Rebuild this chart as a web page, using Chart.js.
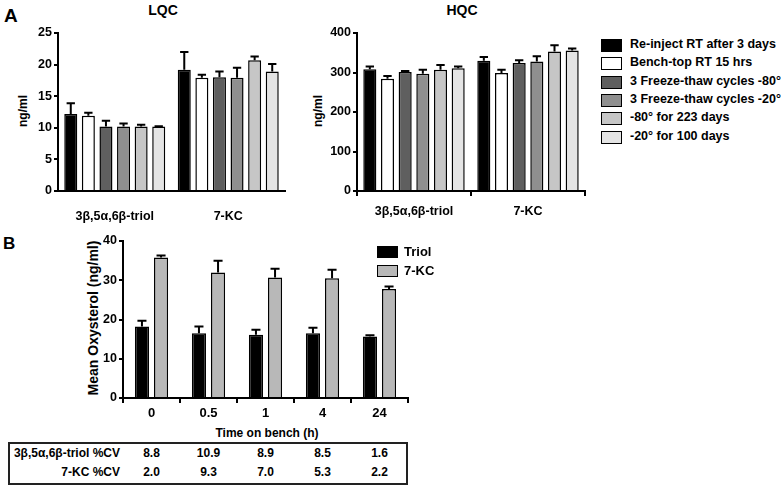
<!DOCTYPE html>
<html>
<head>
<meta charset="utf-8">
<script src="https://cdn.jsdelivr.net/npm/chart.js@4.4.0/dist/chart.umd.min.js"></script>
<style>
  html, body { margin: 0; padding: 0; background: #fff; }
  #fig { position: relative; width: 784px; height: 487px; overflow: hidden;
         font-family: "Liberation Sans", Arial, sans-serif; font-weight: bold; color: #000; }
  #fig canvas { position: absolute; }
  .txt { position: absolute; white-space: nowrap; line-height: 1; }
  .rot { position: absolute; white-space: nowrap; line-height: 1; transform: translate(-50%, -50%) rotate(-90deg); font-size: 12px; }
  .ctr { transform: translate(-50%, -50%); }
  .sw { position: absolute; border: 1.5px solid #000; box-sizing: border-box; }
  #tbl { position: absolute; left: 8px; top: 442px; width: 400px; height: 43px; border: 2px solid #222; box-sizing: border-box; }
</style>
</head>
<body>
<div id="fig">
  <div class="txt" style="left:4px; top:6px; font-size:19px;">A</div>
  <div class="txt" style="left:3px; top:235px; font-size:17px;">B</div>
  <div class="txt ctr" style="left:163px; top:10px; font-size:14px;">LQC</div>
  <div class="txt ctr" style="left:462px; top:10px; font-size:14px;">HQC</div>
  <div class="rot" style="left:23px; top:111px;">ng/ml</div>
  <div class="rot" style="left:318px; top:111px;">ng/ml</div>
  <div class="rot" style="left:93px; top:318px; font-size:14px;">Mean Oxysterol (ng/ml)</div>
  <div class="txt ctr" style="left:267px; top:433px; font-size:12px;">Time on bench (h)</div>

  <canvas id="lqc" width="290" height="225" style="left:0; top:0;"></canvas>
  <canvas id="hqc" width="300" height="225" style="left:290px; top:0;"></canvas>
  <canvas id="bench" width="420" height="200" style="left:0; top:225px;"></canvas>

  <div id="legendA"></div>
  <div id="legendB"></div>
  <div id="tbl"></div>
  <div id="tblText"></div>
</div>

<script>
// ---- Data ----
const compounds = ['3β,5α,6β-triol', '7-KC'];
const conditions = ['Re-inject RT after 3 days', 'Bench-top RT 15 hrs', '3 Freeze-thaw cycles -80°',
                    '3 Freeze-thaw cycles -20°', '-80° for 223 days', '-20° for 100 days'];
const conditionColors = ['#000000', '#ffffff', '#5f5f5f', '#8f8f8f', '#c6c6c6', '#e4e4e4'];

// LQC means / SD per condition, [triol, 7-KC]
const lqcMeans = [[12.2, 19.2], [11.9, 17.9], [10.2, 18.0], [10.2, 17.9], [10.2, 20.7], [10.2, 18.9]];
const lqcErrs  = [[1.7, 2.8], [0.5, 0.5], [0.9, 0.9], [0.5, 1.6], [0.3, 0.6], [0.05, 1.2]];

// HQC means / SD per condition, [triol, 7-KC]
const hqcMeans = [[308, 330], [284, 299], [301, 324], [297, 328], [307, 353], [311, 356]];
const hqcErrs  = [[7, 9], [7, 8], [3, 7], [10, 13], [12, 16], [4, 5]];

const lqcTicks = { max: 25, step: 5 };
const hqcTicks = { max: 400, step: 100 };

// Panel B
const benchTimes = ['0', '0.5', '1', '4', '24'];
const triolMeans = [18.2, 16.5, 16.1, 16.5, 15.7];
const triolErrs  = [1.5, 1.7, 1.3, 1.4, 0.3];
const kcMeans    = [35.8, 32.0, 30.7, 30.5, 27.8];
const kcErrs     = [0.5, 3.0, 2.2, 2.2, 0.6];
const benchNames = ['Triol', '7-KC'];
const benchColors = ['#000000', '#b8b8b8'];
const triolCV = ['8.8', '10.9', '8.9', '8.5', '1.6'];
const kcCV    = ['2.0', '9.3', '7.0', '5.3', '2.2'];
const cvRowLabels = ['3β,5α,6β-triol %CV', '7-KC %CV'];

Chart.defaults.font.family = '"Liberation Sans", Arial, sans-serif';
Chart.defaults.font.size = 12;
Chart.defaults.font.weight = 'bold';
Chart.defaults.color = '#000';

// error bars drawn above each bar: stem + cap
const errorBars = {
  id: 'errorBars',
  afterDatasetsDraw(chart) {
    const ctx = chart.ctx;
    const y = chart.scales.y;
    ctx.save();
    ctx.strokeStyle = '#000';
    ctx.lineWidth = 2;
    chart.data.datasets.forEach((ds, i) => {
      const meta = chart.getDatasetMeta(i);
      meta.data.forEach((bar, j) => {
        const top = y.getPixelForValue(ds.data[j] + ds.errors[j]);
        const cap = bar.width * 0.32;
        ctx.beginPath();
        ctx.moveTo(bar.x, bar.y);
        ctx.lineTo(bar.x, top);
        ctx.moveTo(bar.x - cap, top);
        ctx.lineTo(bar.x + cap, top);
        ctx.stroke();
      });
    });
    ctx.restore();
  }
};

function makeOptions(o) {
  return {
    responsive: false,
    animation: false,
    layout: { padding: { top: o.top, right: o.right, left: 0, bottom: 0 } },
    plugins: { legend: { display: false }, tooltip: { enabled: false } },
    scales: {
      x: {
        grid: { display: o.xTicks, drawOnChartArea: false, color: '#000', lineWidth: 2, tickLength: 5 },
        border: { display: true, color: '#000', width: 2 },
        ticks: { padding: o.xPad, font: { size: o.xFont, weight: 'bold' } },
        afterFit: s => { s.height = o.xHeight; }
      },
      y: {
        min: 0, max: o.max,
        grid: { drawOnChartArea: false, color: '#000', lineWidth: 2, tickLength: 4 },
        border: { display: true, color: '#000', width: 2 },
        ticks: { stepSize: o.step, padding: 2, font: { size: 12.5, weight: 'bold' } },
        afterFit: s => { s.width = o.yWidth; }
      }
    }
  };
}

function qcDatasets(means, errs) {
  return conditions.map((name, i) => ({
    label: name,
    data: means[i],
    errors: errs[i],
    backgroundColor: conditionColors[i],
    borderColor: '#000',
    borderWidth: 1.5,
    borderSkipped: 'bottom',
    categoryPercentage: 0.93,
    barPercentage: 0.74
  }));
}

new Chart(document.getElementById('lqc'), {
  type: 'bar',
  data: { labels: compounds, datasets: qcDatasets(lqcMeans, lqcErrs) },
  options: makeOptions({ top: 33, right: 5, xHeight: 34, yWidth: 58, xPad: 13, xTicks: false, xFont: 12.5,
                         max: lqcTicks.max, step: lqcTicks.step }),
  plugins: [errorBars]
});

new Chart(document.getElementById('hqc'), {
  type: 'bar',
  data: { labels: compounds, datasets: qcDatasets(hqcMeans, hqcErrs) },
  options: makeOptions({ top: 33, right: 5, xHeight: 34, yWidth: 67, xPad: 8, xTicks: true, xFont: 12.5,
                         max: hqcTicks.max, step: hqcTicks.step }),
  plugins: [errorBars]
});

const bench = new Chart(document.getElementById('bench'), {
  type: 'bar',
  data: {
    labels: benchTimes,
    datasets: [
      { label: benchNames[0], data: triolMeans, errors: triolErrs, backgroundColor: benchColors[0] },
      { label: benchNames[1], data: kcMeans, errors: kcErrs, backgroundColor: benchColors[1] }
    ].map(d => Object.assign(d, { borderColor: '#000', borderWidth: 1.5, borderSkipped: 'bottom',
                                  categoryPercentage: 0.67, barPercentage: 0.74 }))
  },
  options: makeOptions({ top: 16, right: 12, xHeight: 27, yWidth: 123, xPad: 3, xTicks: true, xFont: 13,
                         max: 40, step: 10 }),
  plugins: [errorBars]
});

// legends
const legA = document.getElementById('legendA');
conditions.forEach((name, i) => {
  const y = 45 + i * 18.3;
  legA.insertAdjacentHTML('beforeend',
    `<div class="sw" style="left:601px; top:${y - 6}px; width:21px; height:13px; background:${conditionColors[i]}"></div>` +
    `<div class="txt" style="left:630px; top:${y - 7}px; font-size:12.5px;">${name}</div>`);
});
const legB = document.getElementById('legendB');
benchNames.forEach((name, i) => {
  const y = 252 + i * 18.5;
  legB.insertAdjacentHTML('beforeend',
    `<div class="sw" style="left:377px; top:${y - 6}px; width:21px; height:12px; background:${benchColors[i]}"></div>` +
    `<div class="txt" style="left:404px; top:${y - 7}px; font-size:13px;">${name}</div>`);
});

// %CV table, columns aligned with the bench chart categories
const tt = document.getElementById('tblText');
[triolCV, kcCV].forEach((row, r) => {
  const y = 453 + r * 18.5;
  tt.insertAdjacentHTML('beforeend',
    `<div class="txt" style="right:${784 - 120}px; top:${y - 6}px; font-size:12px;">${cvRowLabels[r]}</div>`);
  row.forEach((v, i) => {
    const x = bench.scales.x.getPixelForValue(i);
    tt.insertAdjacentHTML('beforeend',
      `<div class="txt ctr" style="left:${x}px; top:${y}px; font-size:12px;">${v}</div>`);
  });
});
</script>
</body>
</html>
